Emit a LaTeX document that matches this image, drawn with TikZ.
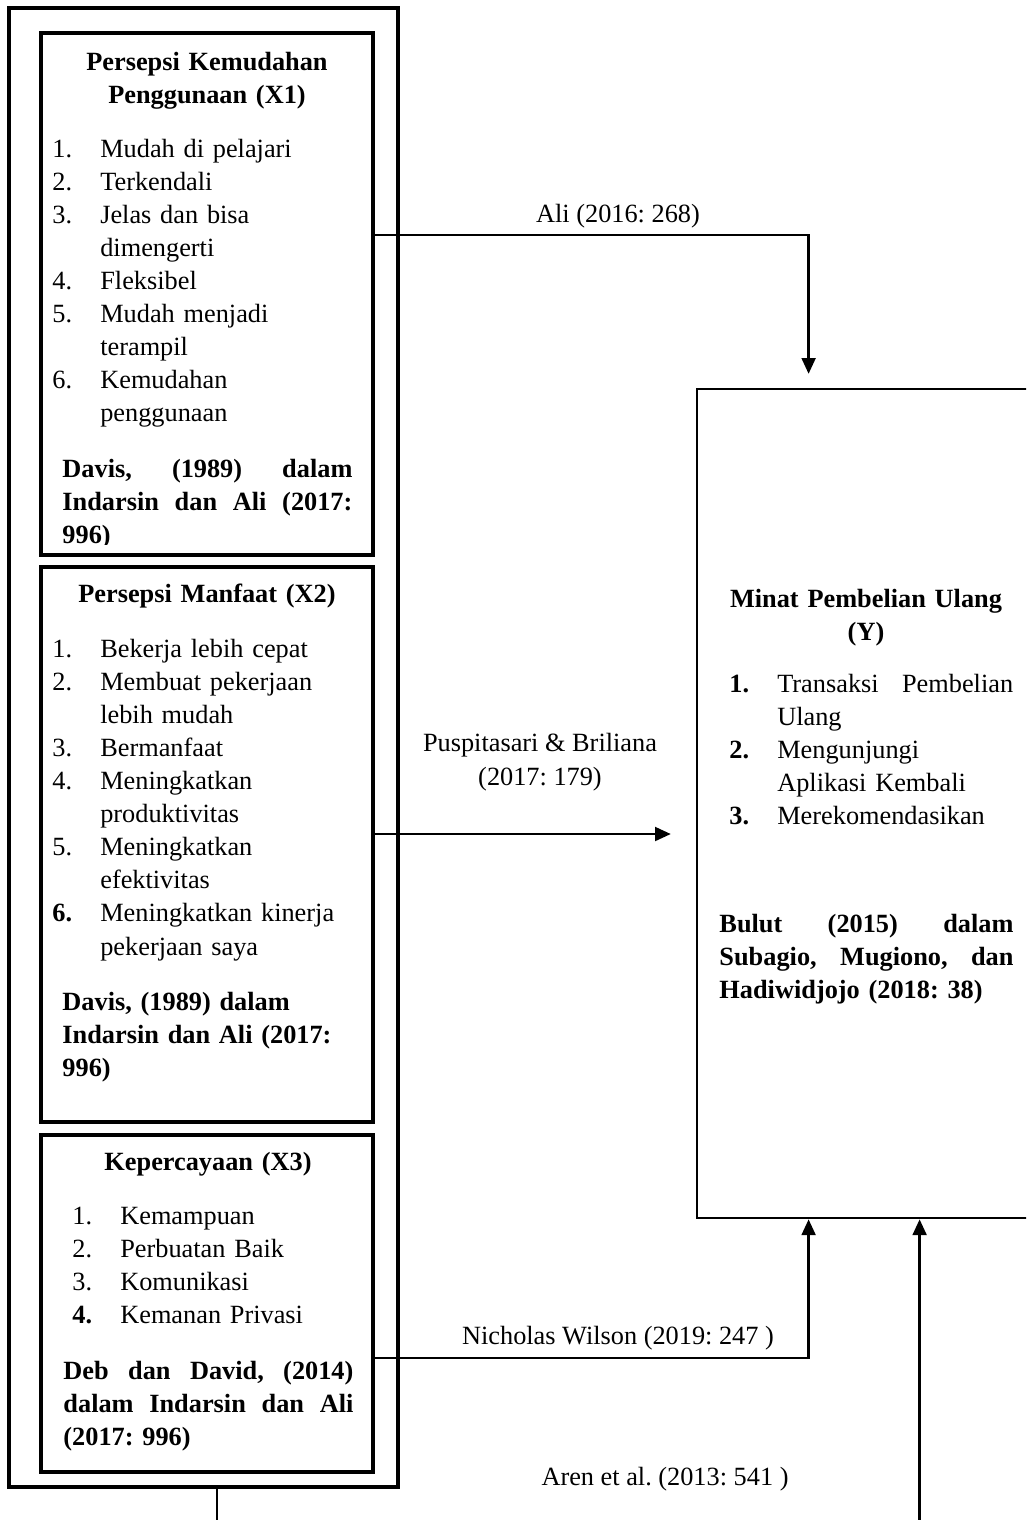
\documentclass[tikz,border=0pt]{standalone}
\usepackage{fontspec}
\setmainfont{Liberation Serif}
\usetikzlibrary{arrows.meta, positioning, fit}
\frenchspacing

\newcommand{\num}[1]{\makebox[20pt][l]{#1}}
\newcommand{\jst}[2]{\leavevmode\hbox to #1{#2}}

\begin{document}
\begin{tikzpicture}[x=0.418pt, y=-0.418pt,
  every node/.style={font=\fontsize{11}{13.84}\selectfont, inner sep=0pt},
  outerbox/.style={draw, line width=1.8pt, inner sep=0pt},
  varbox/.style={draw, line width=1.3pt, inner sep=0pt},
  ybox/.style={draw, line width=1.1pt, inner sep=0pt},
  head/.style={font=\bfseries\fontsize{11}{14.2}\selectfont, align=center, anchor=base},
  items/.style={align=left, anchor=base west},
  cite/.style={font=\bfseries\fontsize{11}{13.84}\selectfont, align=left, anchor=base west},
  lbl/.style={align=center, anchor=base},
  conn/.style={line width=1pt, -{Triangle[length=6.6pt, width=5.8pt]}}
]
  \useasboundingbox (0,0) rectangle (1026,1520);
  \clip (0,0) rectangle (1026,1520);

  % boxes
  \node[outerbox, fit={(9,8) (398,1487)}] (left) {};
  \node[varbox, fit={(41,33) (373,555)}] (x1) {};
  \node[varbox, fit={(41,567) (373,1122)}] (x2) {};
  \node[varbox, fit={(41,1135) (373,1472)}] (x3) {};
  \node[ybox, fit={(697,389) (1035,1218)}] (y) {};

  % X1
  \node[head, text width=138pt] (x1h) at (207,70) {Persepsi Kemudahan\\Penggunaan (X1)};
  \node[items, text width=135pt] (x1i) at (52,157) {\num{1.}Mudah di pelajari\\
    \num{2.}Terkendali\\ \num{3.}Jelas dan bisa\\ \num{}dimengerti\\
    \num{4.}Fleksibel\\ \num{5.}Mudah menjadi\\ \num{}terampil\\
    \num{6.}Kemudahan\\ \num{}penggunaan};
  \begin{scope}
    \clip (x1.north west) rectangle ([yshift=5pt]x1.south east);
    \node[cite, text width=121.2pt] (x1c) at (62,477) {\jst{121.2pt}{Davis,\hfill(1989)\hfill dalam}\\
      \jst{121.2pt}{Indarsin\hfill dan\hfill Ali\hfill(2017:}\\ 996)};
  \end{scope}

  % X2
  \node[head, text width=138pt] (x2h) at (207,602) {Persepsi Manfaat (X2)};
  \node[items, text width=135pt] (x2i) at (52,657) {\num{1.}Bekerja lebih cepat\\
    \num{2.}Membuat pekerjaan\\ \num{}lebih mudah\\ \num{3.}Bermanfaat\\
    \num{4.}Meningkatkan\\ \num{}produktivitas\\ \num{5.}Meningkatkan\\
    \num{}efektivitas\\ \num{\textbf{6.}}Meningkatkan kinerja\\ \num{}pekerjaan saya};
  \node[cite, text width=125pt] (x2c) at (62,1010) {Davis, (1989) dalam\\
    Indarsin dan Ali (2017:\\ 996)};

  % X3
  \node[head, text width=138pt] (x3h) at (208,1170) {Kepercayaan (X3)};
  \node[items, text width=120pt] (x3i) at (72,1224) {\num{1.}Kemampuan\\
    \num{2.}Perbuatan Baik\\ \num{3.}Komunikasi\\ \num{\textbf{4.}}Kemanan Privasi};
  \node[cite, text width=121.2pt] (x3c) at (63,1379) {\jst{121.2pt}{Deb\hfill dan\hfill David,\hfill(2014)}\\
    \jst{121.2pt}{dalam\hfill Indarsin\hfill dan\hfill Ali}\\ (2017: 996)};

  % Y
  \node[head, text width=138pt] (yh) at (866,607) {Minat Pembelian Ulang\\(Y)};
  \node[items, text width=125pt] (yi) at (729,692) {\num{\textbf{1.}}\jst{98.6pt}{Transaksi\hfill Pembelian}\\
    \num{}Ulang\\ \num{\textbf{2.}}Mengunjungi\\ \num{}Aplikasi Kembali\\
    \num{\textbf{3.}}Merekomendasikan};
  \node[cite, text width=122.9pt] (yc) at (719,932) {\jst{122.9pt}{Bulut\hfill(2015)\hfill dalam}\\
    \jst{122.9pt}{Subagio,\hfill Mugiono,\hfill dan}\\ Hadiwidjojo (2018: 38)};

  % connectors
  \draw[conn, shorten >=5.8pt] (x1.east |- 0,235) -| ([xshift=47.2pt]y.north west);
  \draw[conn, shorten >=10.4pt] (x2.east |- 0,834) -- (y.west |- 0,834);
  \draw[conn] (x3.east |- 0,1358) -| ([xshift=47.2pt]y.south west);
  \draw[conn] (left.south -| 217,0) -- (217,1580) -| ([xshift=93.6pt]y.south west);

  \node[lbl] (l1) at (618,222) {Ali (2016: 268)};
  \node[lbl] (l2) at (540,785) {Puspitasari \& Briliana\\(2017: 179)};
  \node[lbl] (l3) at (618,1344) {Nicholas Wilson (2019: 247 )};
  \node[lbl] (l4) at (665,1485) {Aren et al. (2013: 541 )};
\end{tikzpicture}
\end{document}
